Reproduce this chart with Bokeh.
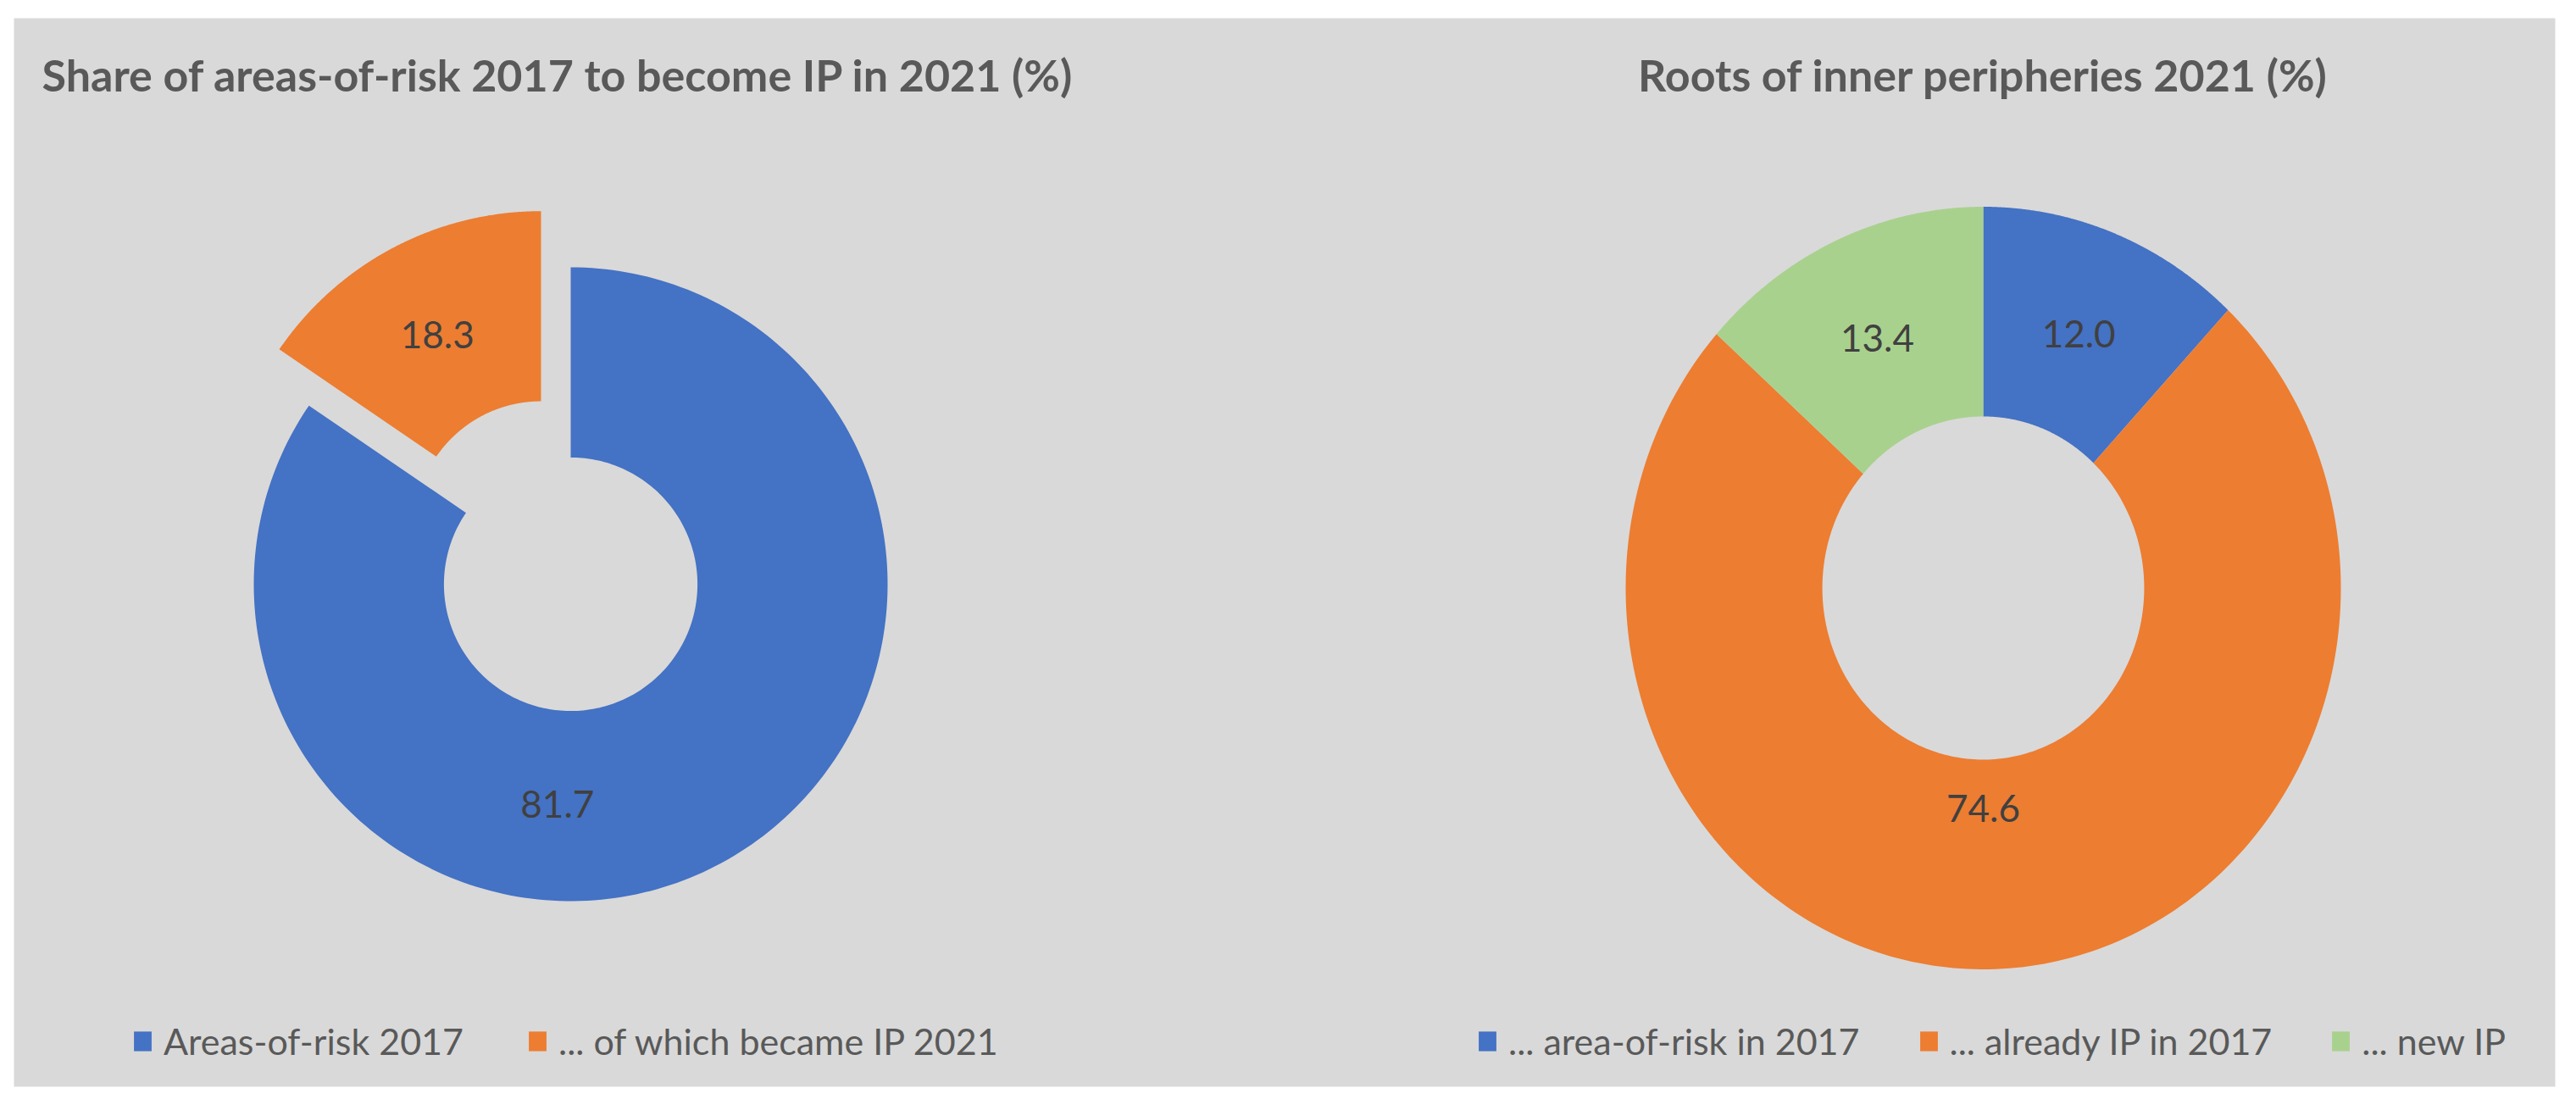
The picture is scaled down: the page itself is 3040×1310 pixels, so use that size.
import numpy as np
from bokeh.plotting import figure
from bokeh.models import ColumnDataSource, Range1d, Legend, LegendItem
from bokeh.core.properties import value
from bokeh.embed import file_html
from bokeh.resources import INLINE

# ---------------- data ----------------
left_title = "Share of areas-of-risk 2017 to become IP in 2021 (%)"
risk_categories = ["Areas-of-risk 2017", "... of which became IP 2021"]
# slice sizes as drawn in the picture: the 18.3 slice is set against the 100 % of areas-of-risk
risk_values = [100.0, 18.3]
risk_labels = ["81.7", "18.3"]

right_title = "Roots of inner peripheries 2021 (%)"
roots_categories = ["... area-of-risk in 2017", "... already IP in 2017", "... new IP"]
roots_values = [12.0, 74.6, 13.4]
roots_labels = ["12.0", "74.6", "13.4"]

# ---------------- style / layout ----------------
BLUE, ORANGE, GREEN = "#4472C4", "#ED7D31", "#A9D18E"
PANEL_BG = "#D9D9D9"
TITLE_COLOR = "#595959"
LABEL_COLOR = "#404040"
TITLE_FONT = "Lato"
BODY_FONT = "Lato"

risk_colors = [BLUE, ORANGE]
roots_colors = [BLUE, ORANGE, GREEN]

W, H = 3030, 1300
X0, X1, Y0, Y1 = 16, 3015, 21, 1282  # panel in page pixels (page has no margin)

p = figure(width=W, height=H, x_range=Range1d(X0, X1), y_range=Range1d(Y1, Y0),
           output_backend="svg", toolbar_location=None,
           x_axis_type=None, y_axis_type=None,
           min_border_left=X0, min_border_top=Y0,
           min_border_right=W - X1, min_border_bottom=H - Y1)
p.grid.visible = False
p.outline_line_color = None
p.background_fill_color = PANEL_BG
p.border_fill_color = "white"


def ring(values, colors, labels, cx, cy, rx, ry, hole, explode, label_at):
    total = float(sum(values))
    xs, ys, lx, ly = [], [], [], []
    start = 0.0
    for v, ex, lab in zip(values, explode, label_at):
        span = 360.0 * v / total
        mid = start + span / 2.0
        mr = np.radians(mid)
        ox = cx + ex * np.sin(mr)
        oy = cy - ex * np.cos(mr)
        t = np.radians(np.linspace(start, start + span, 240))
        tr = t[::-1]
        px = np.concatenate([ox + rx * np.sin(t), ox + hole * rx * np.sin(tr)])
        py = np.concatenate([oy - ry * np.cos(t), oy - hole * ry * np.cos(tr)])
        xs.append(px.tolist())
        ys.append(py.tolist())
        ang, frac = lab if lab is not None else (mid, (1.0 + hole) / 2.0)
        a = np.radians(ang)
        lx.append(ox + frac * rx * np.sin(a))
        ly.append(oy - frac * ry * np.cos(a) + 3)
        start += span
    src = ColumnDataSource(dict(xs=xs, ys=ys, color=colors))
    r = p.patches("xs", "ys", source=src, fill_color="color", line_color=None)
    lsrc = ColumnDataSource(dict(x=lx, y=ly, text=labels))
    p.text("x", "y", text="text", source=lsrc, text_align="center",
           text_baseline="middle", text_font=value(BODY_FONT),
           text_font_size="44px", text_color=LABEL_COLOR)
    return r


r_left = ring(risk_values, risk_colors, risk_labels,
              cx=673, cy=689, rx=374, ry=374, hole=0.40,
              explode=[0, 75], label_at=[(183.5, 0.687), None])
r_right = ring(roots_values, roots_colors, roots_labels,
               cx=2340, cy=693.5, rx=422, ry=450, hole=0.45,
               explode=[0, 0, 0], label_at=[None, (180.0, 0.57), None])

# titles
p.text(x=[49], y=[87], text=[left_title], text_align="left",
       text_baseline="middle", text_font=value(TITLE_FONT),
       text_font_style="bold", text_font_size="52px", text_color=TITLE_COLOR)
p.text(x=[2340], y=[87], text=[right_title], text_align="center",
       text_baseline="middle", text_font=value(TITLE_FONT),
       text_font_style="bold", text_font_size="52px", text_color=TITLE_COLOR)


def make_legend(cats, renderer, loc, spacing):
    items = [LegendItem(label=c, renderers=[renderer], index=i) for i, c in enumerate(cats)]
    return Legend(items=items, orientation="horizontal", location=loc,
                  glyph_width=26, glyph_height=29, label_height=29,
                  label_standoff=12, spacing=spacing, padding=0, margin=0,
                  border_line_color=None, background_fill_alpha=0,
                  label_text_font=BODY_FONT, label_text_font_size="43px",
                  label_text_color=TITLE_COLOR)


p.add_layout(make_legend(risk_categories, r_left, (155 - X0, 28), 74))
p.add_layout(make_legend(roots_categories, r_right, (1742 - X0, 28), 68))

open("out.html", "w").write(file_html(p, INLINE))
